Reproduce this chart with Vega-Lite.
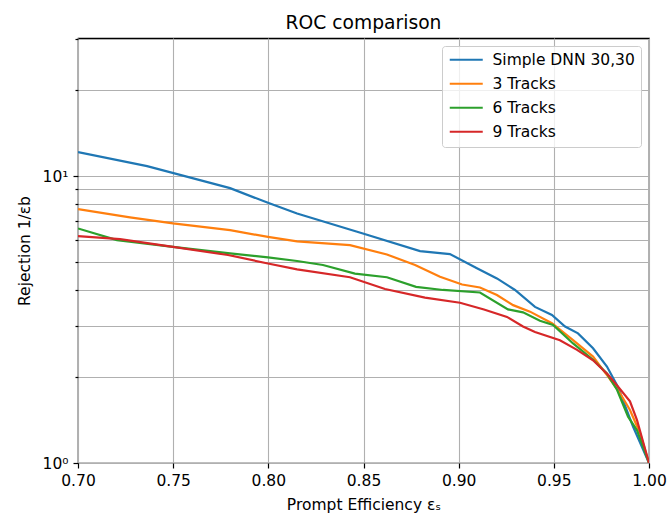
{
  "$schema": "https://vega.github.io/schema/vega-lite/v6.json",
  "width": 571,
  "height": 425,
  "autosize": {"type": "none"},
  "padding": {"left": 78, "top": 38, "right": 21, "bottom": 54},
  "background": "white",
  "title": {
    "text": "ROC comparison",
    "font": "DejaVu Sans",
    "fontSize": 18.7,
    "fontWeight": "normal",
    "color": "black",
    "anchor": "middle",
    "frame": "group",
    "offset": 0
  },
  "config": {
    "view": {"stroke": "black", "strokeWidth": 1.2},
    "font": "DejaVu Sans",
    "axis": {
      "labelFont": "DejaVu Sans",
      "titleFont": "DejaVu Sans",
      "labelFontSize": 15.5,
      "titleFontSize": 15.5,
      "titleFontWeight": "normal",
      "labelColor": "black",
      "titleColor": "black",
      "domain": false,
      "tickColor": "black",
      "tickWidth": 1.2,
      "gridColor": "#b0b0b0",
      "gridWidth": 1.1,
      "gridOpacity": 1
    }
  },
  "data": {
    "values": [
      {"series": "Simple DNN 30,30", "eff": 0.700, "rej": 12.12},
      {"series": "Simple DNN 30,30", "eff": 0.7363, "rej": 10.84},
      {"series": "Simple DNN 30,30", "eff": 0.7799, "rej": 9.08},
      {"series": "Simple DNN 30,30", "eff": 0.7998, "rej": 8.07},
      {"series": "Simple DNN 30,30", "eff": 0.8151, "rej": 7.41},
      {"series": "Simple DNN 30,30", "eff": 0.8497, "rej": 6.31},
      {"series": "Simple DNN 30,30", "eff": 0.8797, "rej": 5.48},
      {"series": "Simple DNN 30,30", "eff": 0.8954, "rej": 5.35},
      {"series": "Simple DNN 30,30", "eff": 0.9096, "rej": 4.77},
      {"series": "Simple DNN 30,30", "eff": 0.9201, "rej": 4.40},
      {"series": "Simple DNN 30,30", "eff": 0.9296, "rej": 4.01},
      {"series": "Simple DNN 30,30", "eff": 0.9401, "rej": 3.50},
      {"series": "Simple DNN 30,30", "eff": 0.9490, "rej": 3.28},
      {"series": "Simple DNN 30,30", "eff": 0.9559, "rej": 2.99},
      {"series": "Simple DNN 30,30", "eff": 0.9627, "rej": 2.83},
      {"series": "Simple DNN 30,30", "eff": 0.9706, "rej": 2.51},
      {"series": "Simple DNN 30,30", "eff": 0.9779, "rej": 2.17},
      {"series": "Simple DNN 30,30", "eff": 0.9837, "rej": 1.84},
      {"series": "Simple DNN 30,30", "eff": 0.9916, "rej": 1.34},
      {"series": "Simple DNN 30,30", "eff": 1.000, "rej": 1.0},
      {"series": "3 Tracks", "eff": 0.700, "rej": 7.67},
      {"series": "3 Tracks", "eff": 0.7273, "rej": 7.18},
      {"series": "3 Tracks", "eff": 0.7499, "rej": 6.84},
      {"series": "3 Tracks", "eff": 0.7799, "rej": 6.48},
      {"series": "3 Tracks", "eff": 0.7998, "rej": 6.14},
      {"series": "3 Tracks", "eff": 0.8151, "rej": 5.92},
      {"series": "3 Tracks", "eff": 0.8429, "rej": 5.75},
      {"series": "3 Tracks", "eff": 0.8623, "rej": 5.33},
      {"series": "3 Tracks", "eff": 0.8771, "rej": 4.90},
      {"series": "3 Tracks", "eff": 0.8902, "rej": 4.46},
      {"series": "3 Tracks", "eff": 0.9018, "rej": 4.19},
      {"series": "3 Tracks", "eff": 0.9112, "rej": 4.09},
      {"series": "3 Tracks", "eff": 0.9201, "rej": 3.85},
      {"series": "3 Tracks", "eff": 0.9286, "rej": 3.55},
      {"series": "3 Tracks", "eff": 0.9375, "rej": 3.37},
      {"series": "3 Tracks", "eff": 0.9490, "rej": 3.07},
      {"series": "3 Tracks", "eff": 0.9601, "rej": 2.68},
      {"series": "3 Tracks", "eff": 0.9706, "rej": 2.35},
      {"series": "3 Tracks", "eff": 0.9785, "rej": 2.00},
      {"series": "3 Tracks", "eff": 0.9848, "rej": 1.75},
      {"series": "3 Tracks", "eff": 0.9900, "rej": 1.53},
      {"series": "3 Tracks", "eff": 0.9953, "rej": 1.27},
      {"series": "3 Tracks", "eff": 1.000, "rej": 1.0},
      {"series": "6 Tracks", "eff": 0.700, "rej": 6.57},
      {"series": "6 Tracks", "eff": 0.7205, "rej": 5.98},
      {"series": "6 Tracks", "eff": 0.7499, "rej": 5.67},
      {"series": "6 Tracks", "eff": 0.7799, "rej": 5.38},
      {"series": "6 Tracks", "eff": 0.7998, "rej": 5.21},
      {"series": "6 Tracks", "eff": 0.8151, "rej": 5.06},
      {"series": "6 Tracks", "eff": 0.8287, "rej": 4.90},
      {"series": "6 Tracks", "eff": 0.8455, "rej": 4.57},
      {"series": "6 Tracks", "eff": 0.8623, "rej": 4.44},
      {"series": "6 Tracks", "eff": 0.8776, "rej": 4.11},
      {"series": "6 Tracks", "eff": 0.8918, "rej": 4.01},
      {"series": "6 Tracks", "eff": 0.9112, "rej": 3.93},
      {"series": "6 Tracks", "eff": 0.9259, "rej": 3.43},
      {"series": "6 Tracks", "eff": 0.9338, "rej": 3.35},
      {"series": "6 Tracks", "eff": 0.9427, "rej": 3.13},
      {"series": "6 Tracks", "eff": 0.9496, "rej": 3.03},
      {"series": "6 Tracks", "eff": 0.9601, "rej": 2.61},
      {"series": "6 Tracks", "eff": 0.9706, "rej": 2.29},
      {"series": "6 Tracks", "eff": 0.9779, "rej": 2.05},
      {"series": "6 Tracks", "eff": 0.9832, "rej": 1.80},
      {"series": "6 Tracks", "eff": 0.9890, "rej": 1.45},
      {"series": "6 Tracks", "eff": 0.9937, "rej": 1.30},
      {"series": "6 Tracks", "eff": 1.000, "rej": 1.0},
      {"series": "9 Tracks", "eff": 0.700, "rej": 6.18},
      {"series": "9 Tracks", "eff": 0.7221, "rej": 6.03},
      {"series": "9 Tracks", "eff": 0.7499, "rej": 5.67},
      {"series": "9 Tracks", "eff": 0.7788, "rej": 5.31},
      {"series": "9 Tracks", "eff": 0.7998, "rej": 4.96},
      {"series": "9 Tracks", "eff": 0.8151, "rej": 4.73},
      {"series": "9 Tracks", "eff": 0.8429, "rej": 4.44},
      {"series": "9 Tracks", "eff": 0.8613, "rej": 4.04},
      {"series": "9 Tracks", "eff": 0.8823, "rej": 3.77},
      {"series": "9 Tracks", "eff": 0.9007, "rej": 3.62},
      {"series": "9 Tracks", "eff": 0.9133, "rej": 3.43},
      {"series": "9 Tracks", "eff": 0.9254, "rej": 3.23},
      {"series": "9 Tracks", "eff": 0.9338, "rej": 2.99},
      {"series": "9 Tracks", "eff": 0.9401, "rej": 2.86},
      {"series": "9 Tracks", "eff": 0.9532, "rej": 2.68},
      {"series": "9 Tracks", "eff": 0.9622, "rej": 2.48},
      {"series": "9 Tracks", "eff": 0.9706, "rej": 2.28},
      {"series": "9 Tracks", "eff": 0.9785, "rej": 2.03},
      {"series": "9 Tracks", "eff": 0.9842, "rej": 1.83},
      {"series": "9 Tracks", "eff": 0.9900, "rej": 1.64},
      {"series": "9 Tracks", "eff": 0.9937, "rej": 1.41},
      {"series": "9 Tracks", "eff": 1.000, "rej": 1.0}
    ]
  },
  "mark": {"type": "line", "strokeWidth": 2.2, "clip": true},
  "encoding": {
    "x": {
      "field": "eff",
      "type": "quantitative",
      "scale": {"domain": [0.7, 1.0], "nice": false, "zero": false},
      "axis": {
        "title": "Prompt Efficiency εₛ",
        "values": [0.7, 0.75, 0.8, 0.85, 0.9, 0.95, 1.0],
        "format": ".2f",
        "tickSize": 5,
        "labelPadding": 5,
        "titlePadding": 9,
        "labelFlush": false,
        "labelOverlap": false
      }
    },
    "y": {
      "field": "rej",
      "type": "quantitative",
      "scale": {"type": "log", "domain": [1, 30.3], "nice": false},
      "axis": {
        "title": "Rejection 1/εb",
        "values": [1, 2, 3, 4, 5, 6, 7, 8, 9, 10, 20, 30],
        "labelExpr": "datum.value == 1 ? '10⁰' : (datum.value == 10 ? '10¹' : '')",
        "tickSize": {"condition": {"test": "datum.value == 1 || datum.value == 10", "value": 5}, "value": 3},
        "labelPadding": 5,
        "titlePadding": 10,
        "labelFlush": false,
        "labelOverlap": false
      }
    },
    "color": {
      "field": "series",
      "type": "nominal",
      "sort": null,
      "scale": {
        "domain": ["Simple DNN 30,30", "3 Tracks", "6 Tracks", "9 Tracks"],
        "range": ["#1f77b4", "#ff7f0e", "#2ca02c", "#d62728"]
      },
      "legend": {
        "title": null,
        "orient": "top-right",
        "offset": 8,
        "symbolType": "M-1.2,0L5.4,0",
        "symbolSize": 100,
        "symbolStrokeWidth": 2.2,
        "labelFont": "DejaVu Sans",
        "labelFontSize": 15.5,
        "labelColor": "black",
        "labelOffset": 29,
        "rowPadding": 7,
        "padding": 6,
        "strokeColor": "#cccccc",
        "fillColor": "rgba(255,255,255,0.8)",
        "cornerRadius": 3
      }
    }
  }
}
